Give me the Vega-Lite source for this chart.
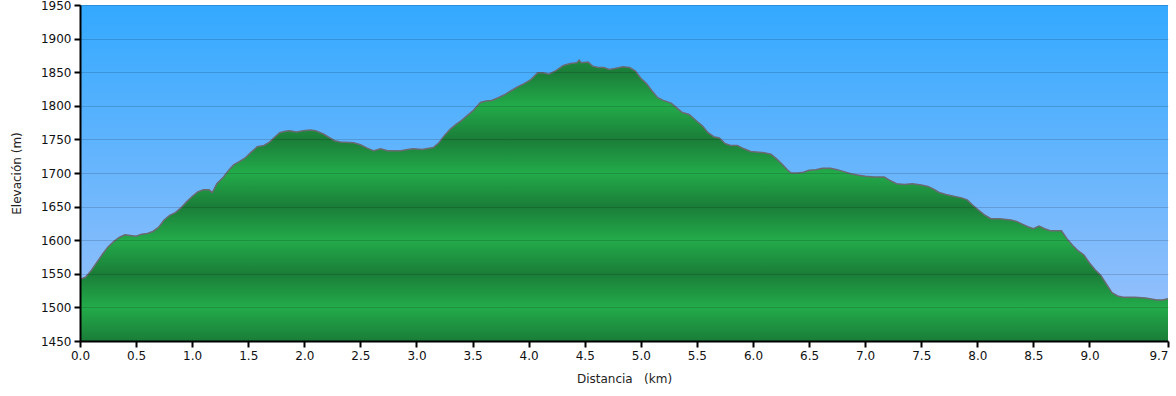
{
  "$schema": "https://vega.github.io/schema/vega-lite/v6.json",
  "width": 1088,
  "height": 336,
  "autosize": {"type": "none"},
  "padding": {"left": 80, "top": 5, "right": 8, "bottom": 55},
  "background": "white",
  "config": {
    "view": {"stroke": null},
    "axis": {
      "domainColor": "#000000",
      "domainWidth": 2,
      "tickColor": "#000000",
      "tickWidth": 2,
      "tickSize": 6,
      "labelFont": "DejaVu Sans",
      "labelFontSize": 12,
      "labelColor": "#111111",
      "titleFont": "DejaVu Sans",
      "titleFontSize": 12,
      "titleFontWeight": "normal",
      "titleColor": "#222222",
      "labelPadding": 3,
      "labelOverlap": false,
      "labelFlush": false
    }
  },
  "data": {
    "values": [
      {"d": 0.00, "e": 1542}, {"d": 0.05, "e": 1545}, {"d": 0.10, "e": 1555}, {"d": 0.15, "e": 1567},
      {"d": 0.20, "e": 1579}, {"d": 0.25, "e": 1590}, {"d": 0.30, "e": 1598}, {"d": 0.35, "e": 1604},
      {"d": 0.40, "e": 1608}, {"d": 0.45, "e": 1607}, {"d": 0.50, "e": 1606}, {"d": 0.55, "e": 1609},
      {"d": 0.60, "e": 1610}, {"d": 0.65, "e": 1613}, {"d": 0.70, "e": 1619}, {"d": 0.75, "e": 1630},
      {"d": 0.80, "e": 1637}, {"d": 0.85, "e": 1641}, {"d": 0.90, "e": 1648}, {"d": 0.95, "e": 1657},
      {"d": 1.00, "e": 1665}, {"d": 1.05, "e": 1672}, {"d": 1.10, "e": 1675}, {"d": 1.15, "e": 1675},
      {"d": 1.18, "e": 1671}, {"d": 1.22, "e": 1684}, {"d": 1.28, "e": 1694}, {"d": 1.33, "e": 1705},
      {"d": 1.37, "e": 1712}, {"d": 1.42, "e": 1717}, {"d": 1.47, "e": 1722}, {"d": 1.52, "e": 1730},
      {"d": 1.58, "e": 1739}, {"d": 1.64, "e": 1741}, {"d": 1.69, "e": 1746}, {"d": 1.74, "e": 1754},
      {"d": 1.78, "e": 1760}, {"d": 1.83, "e": 1762}, {"d": 1.87, "e": 1763}, {"d": 1.93, "e": 1761},
      {"d": 1.99, "e": 1763}, {"d": 2.05, "e": 1764}, {"d": 2.10, "e": 1763}, {"d": 2.17, "e": 1758},
      {"d": 2.22, "e": 1753}, {"d": 2.27, "e": 1748}, {"d": 2.32, "e": 1746}, {"d": 2.44, "e": 1745},
      {"d": 2.50, "e": 1742}, {"d": 2.56, "e": 1737}, {"d": 2.62, "e": 1733}, {"d": 2.68, "e": 1736},
      {"d": 2.74, "e": 1733}, {"d": 2.86, "e": 1733}, {"d": 2.92, "e": 1735}, {"d": 2.97, "e": 1736},
      {"d": 3.05, "e": 1735}, {"d": 3.15, "e": 1738}, {"d": 3.20, "e": 1745}, {"d": 3.25, "e": 1756},
      {"d": 3.30, "e": 1765}, {"d": 3.35, "e": 1772}, {"d": 3.40, "e": 1778}, {"d": 3.45, "e": 1785},
      {"d": 3.50, "e": 1792}, {"d": 3.57, "e": 1805}, {"d": 3.62, "e": 1807}, {"d": 3.67, "e": 1808},
      {"d": 3.73, "e": 1812}, {"d": 3.78, "e": 1816}, {"d": 3.84, "e": 1822}, {"d": 3.90, "e": 1828},
      {"d": 3.96, "e": 1833}, {"d": 4.02, "e": 1839}, {"d": 4.08, "e": 1849}, {"d": 4.13, "e": 1849},
      {"d": 4.18, "e": 1847}, {"d": 4.24, "e": 1852}, {"d": 4.31, "e": 1860}, {"d": 4.37, "e": 1863},
      {"d": 4.43, "e": 1864}, {"d": 4.45, "e": 1868}, {"d": 4.47, "e": 1864}, {"d": 4.53, "e": 1865},
      {"d": 4.57, "e": 1859}, {"d": 4.62, "e": 1857}, {"d": 4.67, "e": 1857}, {"d": 4.72, "e": 1854},
      {"d": 4.78, "e": 1856}, {"d": 4.84, "e": 1858}, {"d": 4.90, "e": 1857}, {"d": 4.95, "e": 1852},
      {"d": 5.00, "e": 1841}, {"d": 5.05, "e": 1833}, {"d": 5.10, "e": 1822}, {"d": 5.15, "e": 1812},
      {"d": 5.20, "e": 1808}, {"d": 5.27, "e": 1804}, {"d": 5.32, "e": 1797}, {"d": 5.37, "e": 1790},
      {"d": 5.43, "e": 1787}, {"d": 5.50, "e": 1777}, {"d": 5.55, "e": 1770}, {"d": 5.60, "e": 1760},
      {"d": 5.65, "e": 1754}, {"d": 5.70, "e": 1752}, {"d": 5.75, "e": 1744}, {"d": 5.80, "e": 1741},
      {"d": 5.86, "e": 1741}, {"d": 5.92, "e": 1736}, {"d": 5.98, "e": 1732}, {"d": 6.05, "e": 1731},
      {"d": 6.10, "e": 1730}, {"d": 6.16, "e": 1728}, {"d": 6.21, "e": 1721}, {"d": 6.26, "e": 1713},
      {"d": 6.31, "e": 1704}, {"d": 6.34, "e": 1700}, {"d": 6.40, "e": 1700}, {"d": 6.45, "e": 1701},
      {"d": 6.50, "e": 1704}, {"d": 6.56, "e": 1705}, {"d": 6.62, "e": 1707}, {"d": 6.69, "e": 1707},
      {"d": 6.75, "e": 1705}, {"d": 6.81, "e": 1702}, {"d": 6.87, "e": 1699}, {"d": 6.93, "e": 1697},
      {"d": 7.00, "e": 1695}, {"d": 7.08, "e": 1694}, {"d": 7.17, "e": 1694}, {"d": 7.22, "e": 1689},
      {"d": 7.28, "e": 1684}, {"d": 7.35, "e": 1683}, {"d": 7.42, "e": 1684}, {"d": 7.50, "e": 1682},
      {"d": 7.56, "e": 1680}, {"d": 7.61, "e": 1676}, {"d": 7.66, "e": 1671}, {"d": 7.72, "e": 1668},
      {"d": 7.80, "e": 1665}, {"d": 7.86, "e": 1663}, {"d": 7.91, "e": 1660}, {"d": 7.96, "e": 1652},
      {"d": 8.01, "e": 1645}, {"d": 8.06, "e": 1638}, {"d": 8.12, "e": 1632}, {"d": 8.20, "e": 1632},
      {"d": 8.30, "e": 1630}, {"d": 8.35, "e": 1628}, {"d": 8.40, "e": 1624}, {"d": 8.45, "e": 1620},
      {"d": 8.50, "e": 1617}, {"d": 8.55, "e": 1621}, {"d": 8.60, "e": 1617}, {"d": 8.65, "e": 1614},
      {"d": 8.75, "e": 1614}, {"d": 8.80, "e": 1602}, {"d": 8.85, "e": 1592}, {"d": 8.90, "e": 1584},
      {"d": 8.95, "e": 1578}, {"d": 9.00, "e": 1566}, {"d": 9.05, "e": 1556}, {"d": 9.10, "e": 1548},
      {"d": 9.15, "e": 1535}, {"d": 9.20, "e": 1522}, {"d": 9.25, "e": 1517}, {"d": 9.30, "e": 1515},
      {"d": 9.40, "e": 1515}, {"d": 9.50, "e": 1514}, {"d": 9.60, "e": 1511}, {"d": 9.65, "e": 1511},
      {"d": 9.70, "e": 1513}
    ]
  },
  "layer": [
    {
      "data": {"values": [{}]},
      "mark": {
        "type": "rect",
        "color": {
          "gradient": "linear", "x1": 0, "y1": 0, "x2": 0, "y2": 1,
          "stops": [
            {"offset": 0, "color": "#33a9ff"},
            {"offset": 1, "color": "#9ec2fb"}
          ]
        }
      },
      "encoding": {
        "x": {
          "datum": 0, "type": "quantitative",
          "scale": {"domain": [0, 9.7], "nice": false, "zero": false},
          "axis": {
            "values": [0, 0.5, 1, 1.5, 2, 2.5, 3, 3.5, 4, 4.5, 5, 5.5, 6, 6.5, 7, 7.5, 8, 8.5, 9, 9.7],
            "format": ".1f",
            "grid": false,
            "title": "Distancia\u00a0\u00a0\u00a0(km)",
            "titlePadding": 12,
            "labelAlign": {"condition": {"test": "datum.value >= 9.69", "value": "right"}, "value": "center"},
            "zindex": 2
          }
        },
        "x2": {"datum": 9.7},
        "y": {
          "datum": 1950, "type": "quantitative",
          "scale": {"domain": [1450, 1950], "nice": false, "zero": false},
          "axis": {
            "values": [1450, 1500, 1550, 1600, 1650, 1700, 1750, 1800, 1850, 1900, 1950],
            "format": "d",
            "grid": true,
            "gridColor": "#000000",
            "gridOpacity": 0.15,
            "gridWidth": 1,
            "title": "Elevación (m)",
            "titlePadding": 17,
            "zindex": 2
          }
        },
        "y2": {"datum": 1450}
      }
    },
    {
      "mark": {
        "type": "area",
        "color": {
          "gradient": "linear", "x1": 0, "y1": 0, "x2": 0, "y2": 1,
          "stops": [
            {"offset": 0, "color": "#1d8a3c"},
            {"offset": 0.0431, "color": "#1a7d38"},
            {"offset": 0.1627, "color": "#23ab4a"},
            {"offset": 0.2823, "color": "#1a7d38"},
            {"offset": 0.4019, "color": "#23ab4a"},
            {"offset": 0.5215, "color": "#1a7d38"},
            {"offset": 0.6411, "color": "#23ab4a"},
            {"offset": 0.7608, "color": "#1a7d38"},
            {"offset": 0.8804, "color": "#23ab4a"},
            {"offset": 1, "color": "#1a7d38"}
          ]
        }
      },
      "encoding": {
        "x": {
          "field": "d", "type": "quantitative",
          "scale": {"domain": [0, 9.7], "nice": false, "zero": false},
          "axis": {
            "values": [0, 0.5, 1, 1.5, 2, 2.5, 3, 3.5, 4, 4.5, 5, 5.5, 6, 6.5, 7, 7.5, 8, 8.5, 9, 9.7],
            "format": ".1f",
            "grid": false,
            "title": "Distancia\u00a0\u00a0\u00a0(km)",
            "titlePadding": 12,
            "labelAlign": {"condition": {"test": "datum.value >= 9.69", "value": "right"}, "value": "center"},
            "zindex": 2
          }
        },
        "y": {
          "field": "e", "type": "quantitative",
          "scale": {"domain": [1450, 1950], "nice": false, "zero": false},
          "axis": {
            "values": [1450, 1500, 1550, 1600, 1650, 1700, 1750, 1800, 1850, 1900, 1950],
            "format": "d",
            "grid": true,
            "gridColor": "#000000",
            "gridOpacity": 0.15,
            "gridWidth": 1,
            "title": "Elevación (m)",
            "titlePadding": 17,
            "zindex": 2
          }
        },
        "y2": {"datum": 1450}
      }
    },
    {
      "mark": {"type": "line", "color": "#6a6a72", "strokeWidth": 1.5},
      "encoding": {
        "x": {
          "field": "d", "type": "quantitative",
          "scale": {"domain": [0, 9.7], "nice": false, "zero": false},
          "axis": {
            "values": [0, 0.5, 1, 1.5, 2, 2.5, 3, 3.5, 4, 4.5, 5, 5.5, 6, 6.5, 7, 7.5, 8, 8.5, 9, 9.7],
            "format": ".1f",
            "grid": false,
            "title": "Distancia\u00a0\u00a0\u00a0(km)",
            "titlePadding": 12,
            "labelAlign": {"condition": {"test": "datum.value >= 9.69", "value": "right"}, "value": "center"},
            "zindex": 2
          }
        },
        "y": {
          "field": "e", "type": "quantitative",
          "scale": {"domain": [1450, 1950], "nice": false, "zero": false},
          "axis": {
            "values": [1450, 1500, 1550, 1600, 1650, 1700, 1750, 1800, 1850, 1900, 1950],
            "format": "d",
            "grid": true,
            "gridColor": "#000000",
            "gridOpacity": 0.15,
            "gridWidth": 1,
            "title": "Elevación (m)",
            "titlePadding": 17,
            "zindex": 2
          }
        }
      }
    }
  ]
}
